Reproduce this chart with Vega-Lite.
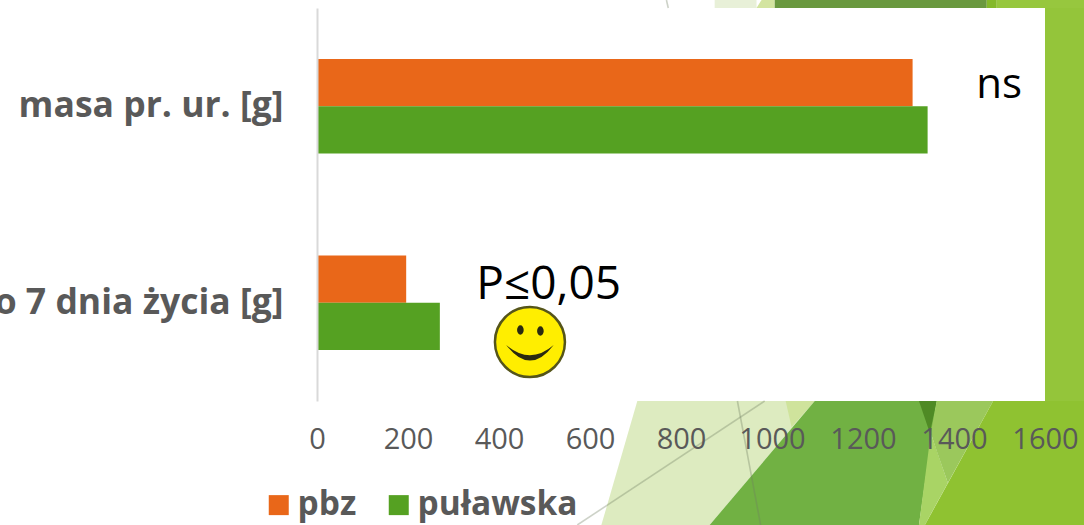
{
"$schema":"https://vega.github.io/schema/vega-lite/v6.json",
"width":728,"height":393,
"autosize":{"type":"none"},
"padding":{"left":317,"top":8,"right":39,"bottom":124},
"background":"#ffffff",
"config":{"view":{"stroke":null},"font":"Open Sans"},
"datasets":{
"shapes":[
{"p":"a","x":625,"y":525,"y2":525},{"p":"a","x":704,"y":401,"y2":525},{"p":"a","x":863,"y":401,"y2":525},{"p":"a","x":1094,"y":401,"y2":401},
{"p":"b","x":1030,"y":401,"y2":401},{"p":"b","x":1043,"y":401,"y2":427},{"p":"b","x":1094,"y":401,"y2":401},
{"p":"c","x":863,"y":525,"y2":525},{"p":"c","x":1094,"y":401,"y2":525},{"p":"c","x":1323,"y":401,"y2":525},{"p":"c","x":1362,"y":401,"y2":401},
{"p":"d","x":1323,"y":401,"y2":401},{"p":"d","x":1347,"y":401,"y2":433},{"p":"d","x":1362,"y":401,"y2":401},
{"p":"e","x":1323,"y":525,"y2":525},{"p":"e","x":1336,"y":479,"y2":525},{"p":"e","x":1349,"y":433,"y2":514},{"p":"e","x":1386.5,"y":483,"y2":483},
{"p":"f","x":1349,"y":433,"y2":433},{"p":"f","x":1362,"y":401,"y2":451},{"p":"f","x":1386.5,"y":401,"y2":483},{"p":"f","x":1486,"y":401,"y2":401},
{"p":"g","x":1336,"y":525,"y2":525},{"p":"g","x":1486,"y":401,"y2":525},{"p":"g","x":1686,"y":401,"y2":525},
{"p":"h","x":1600,"y":8,"y2":401},{"p":"h","x":1686,"y":8,"y2":401},
{"p":"i","x":874,"y":0,"y2":8},{"p":"i","x":966,"y":0,"y2":8},
{"p":"j","x":966,"y":8,"y2":8},{"p":"j","x":977,"y":0,"y2":8},{"p":"j","x":1006,"y":0,"y2":8},
{"p":"k","x":1006,"y":0,"y2":8},{"p":"k","x":1472,"y":0,"y2":8},
{"p":"l","x":1472,"y":0,"y2":8},{"p":"l","x":1494,"y":0,"y2":8},
{"p":"m","x":1494,"y":0,"y2":8},{"p":"m","x":1686,"y":0,"y2":8}
],
"strokes":[
{"x":572,"x2":984,"y":525,"y2":401},
{"x":924,"x2":975,"y":401,"y2":525},
{"x":768,"x2":772,"y":0,"y2":8}
],
"bars":[
{"cecha":"masa pr. ur. [g]","grupa":"pbz","masa":1309},
{"cecha":"masa pr. ur. [g]","grupa":"puławska","masa":1342},
{"cecha":"przyrost do 7 dnia życia [g]","grupa":"pbz","masa":196},
{"cecha":"przyrost do 7 dnia życia [g]","grupa":"puławska","masa":270}
]
},
"resolve":{"scale":{"y":"independent","color":"independent"},"axis":{"x":"independent","y":"independent"}},
"layer":[
{"data":{"name":"shapes"},
 "mark":{"type":"area","orient":"vertical","opacity":1},
 "encoding":{
  "x":{"field":"x","type":"quantitative","scale":{"domain":[0,1600]},"axis":null},
  "y":{"field":"y","type":"quantitative","scale":{"domain":[401,8]},"axis":null},
  "y2":{"field":"y2"},
  "color":{"field":"p","type":"nominal","legend":null,"scale":{
   "domain":["a","b","c","d","e","f","g","h","i","j","k","l","m"],
   "range":["#DDEBC0","#CFE39C","#71B143","#4F8A25","#A9D465","#9BC85C","#8FC231","#94C53A","#E8F0D8","#D3E4A0","#6A993F","#84B92B","#97C73E"]}}
 }},
{"data":{"name":"strokes"},
 "mark":{"type":"rule","color":"#6f7f60","opacity":0.35,"strokeWidth":1.6},
 "encoding":{
  "x":{"field":"x","type":"quantitative","scale":{"domain":[0,1600]},"axis":null},
  "x2":{"field":"x2"},
  "y":{"field":"y","type":"quantitative","scale":{"domain":[401,8]},"axis":null},
  "y2":{"field":"y2"}
 }},
{"data":{"name":"bars"},
 "mark":{"type":"bar"},
 "encoding":{
  "x":{"field":"masa","type":"quantitative","scale":{"domain":[0,1600],"nice":false},
   "axis":{"title":null,"format":"d","values":[0,200,400,600,800,1000,1200,1400,1600],"domain":false,"ticks":false,"grid":false,"labelFont":"Open Sans","labelFontSize":29,"labelColor":"#595959","labelPadding":24,"labelFlush":false,"labelOverlap":false,"zindex":1}},
  "y":{"field":"cecha","type":"nominal","sort":null,"scale":{"paddingInner":0.52,"paddingOuter":0.26},
   "axis":{"title":null,"domainColor":"#D9D9D9","domainWidth":2,"ticks":false,"grid":false,"labelFont":"Open Sans","labelFontWeight":"bold","labelFontSize":35.5,"labelColor":"#595959","labelPadding":34,"labelLimit":0,"zindex":1}},
  "yOffset":{"field":"grupa","type":"nominal","sort":["pbz","puławska"],"scale":{"paddingInner":0,"paddingOuter":0}},
  "color":{"field":"grupa","type":"nominal","scale":{"domain":["pbz","puławska"],"range":["#E96719","#55A122"]},
   "legend":{"title":null,"orient":"none","legendX":-55,"legendY":480,"direction":"horizontal","symbolType":"square","symbolSize":400,"symbolStrokeWidth":0,"labelFont":"Open Sans","labelFontWeight":"bold","labelFontSize":33.5,"labelColor":"#595959","labelOffset":2,"columnPadding":25,"labelLimit":0}}
 }},
{"data":{"values":[{"t":"ns","x":1449,"y":98}]},
 "mark":{"type":"text","font":"Open Sans","fontSize":42,"align":"left","baseline":"alphabetic","color":"#000000"},
 "encoding":{
  "x":{"field":"x","type":"quantitative","scale":{"domain":[0,1600]},"axis":null},
  "y":{"field":"y","type":"quantitative","scale":{"domain":[401,8]},"axis":null},
  "text":{"field":"t"}
 }},
{"data":{"values":[{"t":"P≤0,05","x":350,"y":299}]},
 "mark":{"type":"text","font":"Open Sans","fontSize":46,"align":"left","baseline":"alphabetic","color":"#000000"},
 "encoding":{
  "x":{"field":"x","type":"quantitative","scale":{"domain":[0,1600]},"axis":null},
  "y":{"field":"y","type":"quantitative","scale":{"domain":[401,8]},"axis":null},
  "text":{"field":"t"}
 }},
{"data":{"values":[{"x":468,"y":342}]},
 "mark":{"type":"point","shape":"circle","filled":true,"size":4900,"fill":"#FFEE00","stroke":"#55551a","strokeWidth":2.5,"opacity":1},
 "encoding":{
  "x":{"field":"x","type":"quantitative","scale":{"domain":[0,1600]},"axis":null},
  "y":{"field":"y","type":"quantitative","scale":{"domain":[401,8]},"axis":null}
 }},
{"data":{"values":[{"x":447,"y":330},{"x":491,"y":331}]},
 "mark":{"type":"point","shape":"M-0.7 0 A0.7 1 0 1 0 0.7 0 A0.7 1 0 1 0 -0.7 0 Z","filled":true,"size":90,"fill":"#2a2a10","opacity":1},
 "encoding":{
  "x":{"field":"x","type":"quantitative","scale":{"domain":[0,1600]},"axis":null},
  "y":{"field":"y","type":"quantitative","scale":{"domain":[401,8]},"axis":null}
 }},
{"data":{"values":[{"x":468,"y":342}]},
 "mark":{"type":"point","shape":"M-0.66 0.08 Q0 0.95 0.66 0.08 Q0 0.65 -0.66 0.08 Z","filled":true,"size":5184,"fill":"#2a2a10","opacity":1},
 "encoding":{
  "x":{"field":"x","type":"quantitative","scale":{"domain":[0,1600]},"axis":null},
  "y":{"field":"y","type":"quantitative","scale":{"domain":[401,8]},"axis":null}
 }}
]
}
